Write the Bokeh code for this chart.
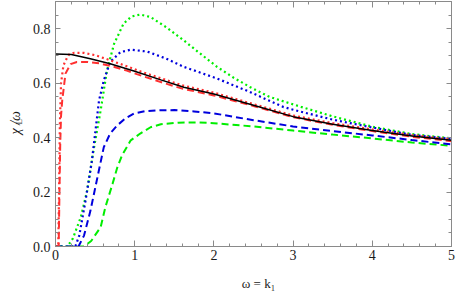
import math
from bokeh.plotting import figure
from bokeh.models import (FixedTicker, PrintfTickFormatter, LinearAxis, Label, Range1d)
from bokeh.embed import file_html
from bokeh.resources import INLINE

# ---------------- data ----------------
x_ticks = [0, 1, 2, 3, 4, 5]
x_minor = [0.2, 0.4, 0.6, 0.8, 1.2, 1.4, 1.6, 1.8, 2.2, 2.4, 2.6, 2.8,
           3.2, 3.4, 3.6, 3.8, 4.2, 4.4, 4.6, 4.8]
y_ticks = [0.0, 0.2, 0.4, 0.6, 0.8]
y_minor = [0.05, 0.1, 0.15, 0.25, 0.3, 0.35, 0.45, 0.5, 0.55, 0.65, 0.7, 0.75, 0.85]

black_x = [0, 0.2, 0.44, 0.69, 0.99, 1.33, 1.62, 2.0, 2.5, 3.0, 3.5, 4.0, 4.5, 5.0]
black_y = [0.707, 0.705, 0.69, 0.671, 0.645, 0.612, 0.585, 0.56, 0.519, 0.477, 0.449, 0.426, 0.406, 0.39]

red_dot_x = [0, 0.035, 0.045, 0.055, 0.07, 0.1, 0.14, 0.17, 0.23, 0.36, 0.5, 0.69, 0.9, 1.1,
             1.33, 1.6, 2.0, 2.5, 3.0, 3.5, 4.0, 4.5, 5.0]
red_dot_y = [0, 0, 0.2, 0.45, 0.6, 0.665, 0.69, 0.705, 0.711, 0.711, 0.703, 0.684, 0.662, 0.64,
             0.618, 0.592, 0.565, 0.523, 0.481, 0.453, 0.43, 0.409, 0.393]

red_dash_x = [0, 0.04, 0.05, 0.06, 0.07, 0.085, 0.126, 0.19, 0.27, 0.4, 0.55, 0.7, 0.9, 1.1,
              1.33, 1.6, 2.0, 2.5, 3.0, 3.5, 4.0, 4.5, 5.0]
red_dash_y = [0, 0, 0.2, 0.38, 0.48, 0.537, 0.635, 0.67, 0.678, 0.678, 0.673, 0.663, 0.646, 0.626,
              0.604, 0.58, 0.555, 0.516, 0.475, 0.447, 0.424, 0.403, 0.387]

green_dot_x = [0, 0.15, 0.22, 0.32, 0.40, 0.48, 0.57, 0.65, 0.74, 0.86, 0.96, 1.07, 1.2, 1.4,
               1.62, 1.8, 2.04, 2.25, 2.46, 2.7, 2.88, 3.1, 3.5, 4.0, 4.5, 5.0]
green_dot_y = [0, 0, 0.03, 0.108, 0.206, 0.353, 0.50, 0.647, 0.745, 0.819, 0.845, 0.852, 0.843, 0.805,
               0.757, 0.715, 0.66, 0.62, 0.585, 0.55, 0.533, 0.513, 0.478, 0.44, 0.413, 0.397]

blue_dot_x = [0, 0.25, 0.3, 0.38, 0.46, 0.55, 0.61, 0.69, 0.82, 0.95, 1.16, 1.4, 1.62, 2.04,
              2.46, 2.88, 3.1, 3.5, 4.0, 4.5, 5.0]
blue_dot_y = [0, 0, 0.04, 0.17, 0.316, 0.537, 0.61, 0.678, 0.714, 0.723, 0.716, 0.69, 0.66, 0.617,
              0.567, 0.512, 0.495, 0.466, 0.437, 0.41, 0.395]

blue_dash_x = [0, 0.29, 0.36, 0.44, 0.53, 0.61, 0.69, 0.78, 0.88, 0.99, 1.13, 1.28, 1.5, 1.75,
               2.0, 2.5, 3.0, 3.5, 4.0, 4.5, 5.0]
blue_dash_y = [0, 0, 0.04, 0.13, 0.255, 0.365, 0.415, 0.445, 0.47, 0.488, 0.497, 0.50, 0.501, 0.496,
               0.489, 0.464, 0.441, 0.424, 0.408, 0.391, 0.375]

green_dash_x = [0, 0.36, 0.45, 0.57, 0.63, 0.72, 0.78, 0.84, 0.95, 1.07, 1.2, 1.33, 1.55, 1.8,
                2.0, 2.5, 3.0, 3.5, 4.0, 4.5, 5.0]
green_dash_y = [0, 0, 0.02, 0.071, 0.145, 0.23, 0.29, 0.335, 0.39, 0.415, 0.438, 0.449, 0.455, 0.456,
                0.453, 0.441, 0.426, 0.411, 0.397, 0.382, 0.37]

x_title = "ω = k₁"
y_title_main = "χ  /ω"
y_title_sub = "L"

# ---------------- figure ----------------
W, H = 457, 292
FRAME_L, FRAME_R, FRAME_T, FRAME_B = 55, 6, 1, 46
X0, X1, Y0, Y1 = 0, 5, 0, 0.9
p = figure(width=W, height=H, output_backend="svg", toolbar_location=None,
           x_range=Range1d(X0, X1), y_range=Range1d(Y0, Y1),
           min_border_left=FRAME_L, min_border_right=FRAME_R,
           min_border_top=FRAME_T, min_border_bottom=FRAME_B,
           x_axis_type=None, y_axis_type=None)
p.grid.visible = False
p.background_fill_color = "white"
p.border_fill_color = "white"
p.outline_line_color = "#8a8a8a"

AX = "#8a8a8a"
SERIF = "'Liberation Serif', serif"
TXT = "#1a1a1a"


def style_axis(ax, labels):
    ax.axis_line_color = AX
    ax.major_tick_line_color = AX
    ax.minor_tick_line_color = AX
    ax.major_tick_out = 0
    ax.minor_tick_out = 0
    if labels:
        ax.major_label_text_font = SERIF
        ax.major_label_text_font_size = "14px"
        ax.major_label_text_color = TXT
    else:
        ax.major_label_text_font_size = "0px"
        ax.major_label_standoff = 0


xb = LinearAxis(ticker=FixedTicker(ticks=x_ticks, minor_ticks=x_minor),
                formatter=PrintfTickFormatter(format="%d"))
style_axis(xb, True)
xb.major_tick_in = 6
xb.minor_tick_in = 3
xb.major_label_standoff = 3
p.add_layout(xb, "below")

yl = LinearAxis(ticker=FixedTicker(ticks=y_ticks, minor_ticks=y_minor),
                formatter=PrintfTickFormatter(format="%.1f"))
style_axis(yl, True)
yl.major_tick_in = 5
yl.minor_tick_in = 3
yl.major_label_standoff = 5
p.add_layout(yl, "left")

xa = LinearAxis(ticker=FixedTicker(ticks=x_ticks, minor_ticks=x_minor),
                major_label_overrides={t: "" for t in x_ticks})
style_axis(xa, False)
xa.major_tick_in = 6
xa.minor_tick_in = 3
p.add_layout(xa, "above")

yr = LinearAxis(ticker=FixedTicker(ticks=y_ticks, minor_ticks=y_minor),
                major_label_overrides={t: "" for t in y_ticks})
style_axis(yr, False)
yr.major_tick_in = 5
yr.minor_tick_in = 3
p.add_layout(yr, "right")

# ---------------- curves ----------------
p.line(green_dash_x, green_dash_y, line_color="#00ee00", line_width=2, line_dash="7 4")
p.line(blue_dash_x, blue_dash_y, line_color="#0000dd", line_width=2, line_dash="7 4")
p.line(green_dot_x, green_dot_y, line_color="#00ee00", line_width=2.2, line_dash="2 3")
p.line(blue_dot_x, blue_dot_y, line_color="#0000dd", line_width=2.2, line_dash="2 3")
p.line(red_dash_x, red_dash_y, line_color="#ff3030", line_width=2, line_dash="7 4")
p.line(red_dot_x, red_dot_y, line_color="#ff3030", line_width=2.2, line_dash="2 3")
p.line(black_x, black_y, line_color="black", line_width=1.5)


# ---------------- titles: labels placed in side panels (not clipped) ----------------
def dx(px):
    return X0 + (px - FRAME_L) / (W - FRAME_L - FRAME_R) * (X1 - X0)


def dy(py):
    return Y0 + (H - FRAME_B - py) / (H - FRAME_B - FRAME_T) * (Y1 - Y0)


p.add_layout(Label(x=dx(258), y=dy(283), text=x_title, text_font=SERIF, text_font_size="13px",
                   text_color=TXT, text_align="center", text_baseline="alphabetic"), "below")

p.add_layout(Label(x=dx(15), y=dy(134), text=y_title_main, text_font=SERIF,
                   text_font_size="14px", text_font_style="italic", text_color=TXT,
                   angle=math.pi / 2, text_align="left", text_baseline="alphabetic"), "left")
p.add_layout(Label(x=dx(18), y=dy(124), text=y_title_sub, text_font=SERIF,
                   text_font_size="9px", text_color=TXT,
                   angle=math.pi / 2, text_align="left", text_baseline="alphabetic"), "left")

open("out.html", "w").write(file_html(p, INLINE))
